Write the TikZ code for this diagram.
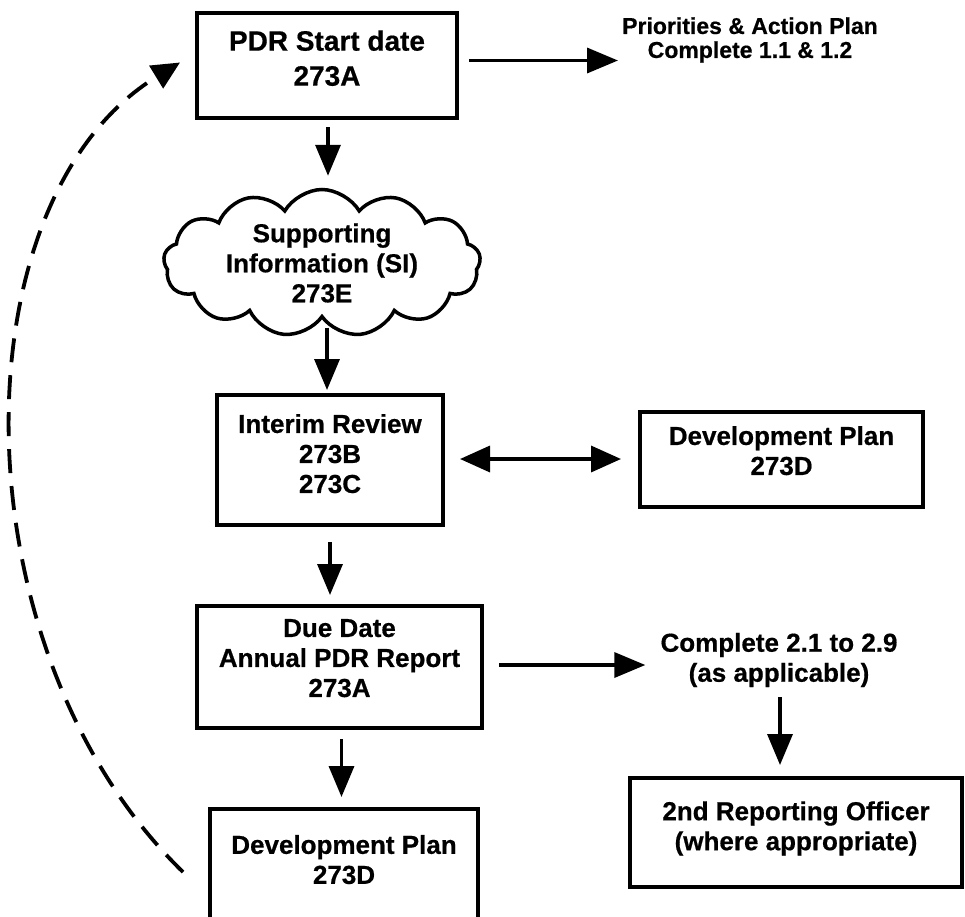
\documentclass[tikz,border=0pt]{standalone}
\usepackage{fontspec}
\setmainfont{Liberation Sans}[BoldFeatures={FakeBold=0.6}]
\usetikzlibrary{shapes.symbols, arrows.meta, calc}

\begin{document}
\begin{tikzpicture}[x=1pt, y=-1pt,
        caixa/.style={draw, line width=4pt, align=center, inner sep=0pt,
            font=\bfseries\fontsize{26}{30}\selectfont},
        texto/.style={align=center, inner sep=0pt, font=\bfseries\fontsize{26}{30}\selectfont},
        nuvem/.style={cloud, draw, line width=3.5pt, cloud puffs=13, cloud puff arc=120,
            cloud ignores aspect, minimum width=317pt, minimum height=147pt,
            align=center, inner sep=0pt, font=\bfseries\fontsize{26}{30}\selectfont},
        seta/.style={line width=3.5pt, -{Triangle[length=31pt, width=25pt]}},
        dupla/.style={line width=3.5pt, {Triangle[length=30pt, width=26pt]}-{Triangle[length=30pt, width=26pt]}},
        volta/.style={line width=3.8pt, dash pattern=on 24pt off 13pt, -{Triangle[length=28pt, width=26pt]}}]
        \useasboundingbox (0,0) rectangle (965,916);
        \clip (0,0) rectangle (965,916);

        % Caixa inicial
        \node[caixa, minimum width=260pt, minimum height=105pt, text depth=15pt,
            font=\bfseries\fontsize{28}{35}\selectfont] (pdr) at (327,65.5) {PDR Start date\\273A};
        \node[texto, font=\bfseries\fontsize{23}{24}\selectfont] (prio) at (750,40) {Priorities \& Action Plan\\Complete 1.1 \& 1.2};

        % Nuvem
        \node[nuvem] (si) at (322,263) {Supporting\\Information (SI)\\273E};

        % Revisao intermediaria
        \node[caixa, minimum width=226pt, minimum height=130pt, text depth=13pt] (interim) at (330,460) {Interim Review\\273B\\273C};
        \node[caixa, minimum width=283pt, minimum height=95pt, text depth=18pt] (devA) at (781.5,459.5) {Development Plan\\273D};

        % Relatorio anual
        \node[caixa, minimum width=285pt, minimum height=122pt, text depth=18pt] (due) at (339.5,667) {Due Date\\Annual PDR Report\\273A};
        \node[texto] (compl) at (779,660) {Complete 2.1 to 2.9\\(as applicable)};
        \node[caixa, minimum width=332pt, minimum height=109pt, text depth=13.5pt] (officer) at (796,832.5) {2nd Reporting Officer\\(where appropriate)};
        \node[caixa, anchor=north, minimum width=268pt, inner ysep=26pt, text depth=100pt] (devB) at (344,807) {Development Plan\\273D};

        % Setas
        \coordinate (t1) at ($(pdr.east)+(10,-5)$);
        \draw[seta] (t1) -- ($(t1 -| prio.west)+(-4,0)$);
        \draw[seta] ($(pdr.south)+(1,7)$) -- ($(pdr.south |- si.north)+(1,-12)$);
        \draw[seta] ($(si.south -| interim.north)+(-3,8)$) -- ($(interim.north)+(-3,-3)$);
        \draw[dupla] ($(interim.east)+(15,-1)$) -- ($(devA.west)+(-17,-0.5)$);
        \draw[seta] ($(interim.south)+(0,15)$) -- ($(interim.south |- due.north)+(0,-9)$);
        \coordinate (t6) at ($(due.east)+(15,-2)$);
        \draw[seta] (t6) -- ($(t6 -| compl.west)+(-15,0)$);
        \draw[seta] ($(compl.south)+(1,10)$) -- ($(compl.south |- officer.north)+(1,-11)$);
        \draw[seta] ($(due.south)+(2,9)$) -- ($(due.south |- devB.north)+(2,-10)$);

        % Retorno tracejado
        \coordinate (r1) at ($(devB.north west)+(-25,65)$);
        \coordinate (r2) at ($(pdr.west)+(-15,-3)$);
        \draw[volta] (r1) .. controls (-45,650) and (-45,200) .. (r2);
\end{tikzpicture}
\end{document}
